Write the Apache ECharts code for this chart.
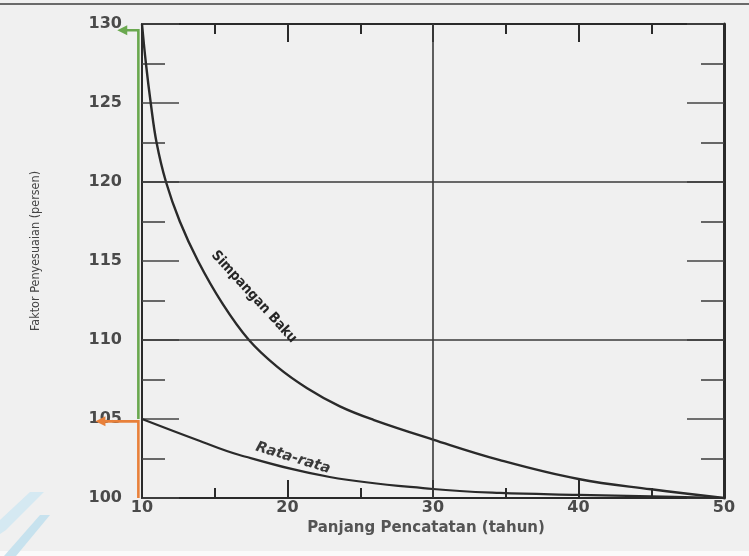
<!DOCTYPE html>
<html>
<head>
<meta charset="utf-8">
<script src="https://cdn.jsdelivr.net/npm/echarts@6/dist/echarts.min.js"></script>
<style>
html,body{margin:0;padding:0;background:#f0f0f0;}
#c{width:749px;height:556px;}
</style>
</head>
<body>
<div id="c"></div>
<script>
// Simpangan Baku (standard deviation) curve: [tahun, persen]
const sdX = [10, 10.27, 10.6, 11.0, 11.65, 12.6, 13.85, 15.5, 17.35, 19.3, 21.35, 23.6, 25.9, 30, 34.6, 40, 45, 50];
const sdY = [130, 127.5, 125, 122.5, 120, 117.5, 115, 112.35, 110, 108.3, 106.95, 105.8, 104.95, 103.7, 102.4, 101.2, 100.55, 100];
// Rata-rata (mean) curve
const meanX = [10, 13.8, 16.7, 22.9, 30, 34.6, 40, 45, 50];
const meanY = [105, 103.67, 102.72, 101.33, 100.57, 100.32, 100.2, 100.1, 100];
// Reading annotations (green: std dev at 10 yrs -> 130, orange: mean at 10 yrs -> 105)
const greenX = [9.75, 9.75, 8.3];
const greenY = [105, 129.6, 129.6];
const orangeX = [9.75, 9.75, 6.8];
const orangeY = [100, 104.85, 104.85];
// Full grid lines
const gridY = [110, 120];
const gridX = [30];

const pairs = (xs, ys) => xs.map((x, i) => [x, ys[i]]);

const ink = '#2a2a2a';
const tickFont = {fontFamily: 'DejaVu Sans', fontWeight: 'bold', fontSize: 16, color: '#4a4a4a'};

const chart = echarts.init(document.getElementById('c'));
chart.setOption({
  backgroundColor: '#f0f0f0',
  animation: false,
  grid: {left: 142, right: 25, top: 24, bottom: 58},
  xAxis: [{
    type: 'value', min: 10, max: 50, interval: 10, position: 'bottom',
    name: 'Panjang Pencatatan (tahun)', nameLocation: 'middle', nameGap: 16,
    nameTextStyle: {fontFamily: 'DejaVu Sans', fontWeight: 'bold', fontSize: 15, color: '#555', padding: [0, 14, 0, 0]},
    axisLine: {show: true, onZero: false, lineStyle: {color: ink, width: 2}},
    axisTick: {show: true, inside: true, length: 18, lineStyle: {color: ink, width: 2}},
    minorTick: {show: true, splitNumber: 2, length: 10, lineStyle: {color: ink, width: 2}},
    axisLabel: Object.assign({margin: 2}, tickFont),
    splitLine: {show: false}
  }, {
    type: 'value', min: 10, max: 50, interval: 10, position: 'top',
    axisLine: {show: true, onZero: false, lineStyle: {color: ink, width: 2}},
    axisTick: {show: true, inside: true, length: 18, lineStyle: {color: ink, width: 2}},
    minorTick: {show: true, splitNumber: 2, length: 10, lineStyle: {color: ink, width: 2}},
    axisLabel: {show: false},
    splitLine: {show: false}
  }],
  yAxis: [{
    type: 'value', min: 100, max: 130, interval: 5, position: 'left',
    name: 'Faktor Penyesuaian (persen)', nameLocation: 'middle', nameGap: 100,
    nameTextStyle: {fontFamily: "'DejaVu Sans Condensed', 'Liberation Sans', 'Roboto', sans-serif", fontSize: 12.5, color: '#444', padding: [0, 0, 0, 20]},
    axisLine: {show: true, onZero: false, lineStyle: {color: ink, width: 2}},
    axisTick: {show: true, inside: true, length: 37, lineStyle: {color: '#444', width: 1.6}},
    minorTick: {show: true, splitNumber: 2, length: 23, lineStyle: {color: '#444', width: 1.6}},
    axisLabel: Object.assign({margin: 20}, tickFont),
    splitLine: {show: false}
  }, {
    type: 'value', min: 100, max: 130, interval: 5, position: 'right',
    axisLine: {show: true, onZero: false, lineStyle: {color: ink, width: 3}},
    axisTick: {show: true, inside: true, length: 37, lineStyle: {color: '#444', width: 1.6}},
    minorTick: {show: true, splitNumber: 2, length: 23, lineStyle: {color: '#444', width: 1.6}},
    axisLabel: {show: false},
    splitLine: {show: false}
  }],
  series: [{
    name: 'Simpangan Baku', type: 'line', smooth: 0.4, symbol: 'none',
    data: pairs(sdX, sdY),
    lineStyle: {color: ink, width: 2.4},
    markLine: {
      silent: true, symbol: 'none', label: {show: false},
      lineStyle: {color: '#3a3a3a', width: 1.6, type: 'solid'},
      data: gridY.map(v => ({yAxis: v})).concat(gridX.map(v => ({xAxis: v})))
    },
    z: 3
  }, {
    name: 'Rata-rata', type: 'line', smooth: 0.4, symbol: 'none',
    data: pairs(meanX, meanY),
    lineStyle: {color: ink, width: 2.2},
    z: 3
  }]
});

function arrowGraphics(xs, ys, color, id) {
  const pts = pairs(xs, ys).map(p => chart.convertToPixel({gridIndex: 0}, p));
  const tip = pts[pts.length - 1];
  const linePts = pts.slice(0, -1).concat([[tip[0] + 6, tip[1]]]);
  return [
    {type: 'polyline', id: id + 'L', z: 50, shape: {points: linePts}, style: {stroke: color, lineWidth: 2.6, fill: null}},
    {type: 'polygon', id: id + 'A', z: 50, shape: {points: [[tip[0], tip[1]], [tip[0] + 10, tip[1] - 5], [tip[0] + 10, tip[1] + 5]]}, style: {fill: color}}
  ];
}

chart.setOption({
  graphic: [
    {type: 'line', id: 'topline', shape: {x1: 0, y1: 4, x2: 749, y2: 4}, style: {stroke: '#6a6a6a', lineWidth: 2}},
    {type: 'rect', id: 'bottomband', shape: {x: 0, y: 551, width: 749, height: 5}, style: {fill: '#fafafa'}},
    {type: 'polygon', id: 'deco1', shape: {points: [[0, 520], [30, 492], [44, 492], [6, 530], [0, 534]]}, style: {fill: '#d5e9f2'}},
    {type: 'polygon', id: 'deco2', shape: {points: [[4, 556], [40, 515], [50, 515], [16, 556]]}, style: {fill: '#c7e2ee'}},
    {type: 'text', id: 'lblSd', x: 254, y: 297, rotation: -0.83, z: 10,
      style: {text: 'Simpangan Baku', font: "bold 14px 'DejaVu Sans Condensed', 'Liberation Sans', sans-serif", fill: '#262626', align: 'center', verticalAlign: 'middle'}},
    {type: 'text', id: 'lblMean', x: 293, y: 458, rotation: -0.3, z: 10,
      style: {text: 'Rata-rata', font: "italic bold 14.5px 'DejaVu Sans', sans-serif", fill: '#3a3a3a', align: 'center', verticalAlign: 'middle'}}
  ].concat(arrowGraphics(greenX, greenY, '#6aa84f', 'g'))
   .concat(arrowGraphics(orangeX, orangeY, '#e8803a', 'o'))
});
</script>
</body>
</html>
